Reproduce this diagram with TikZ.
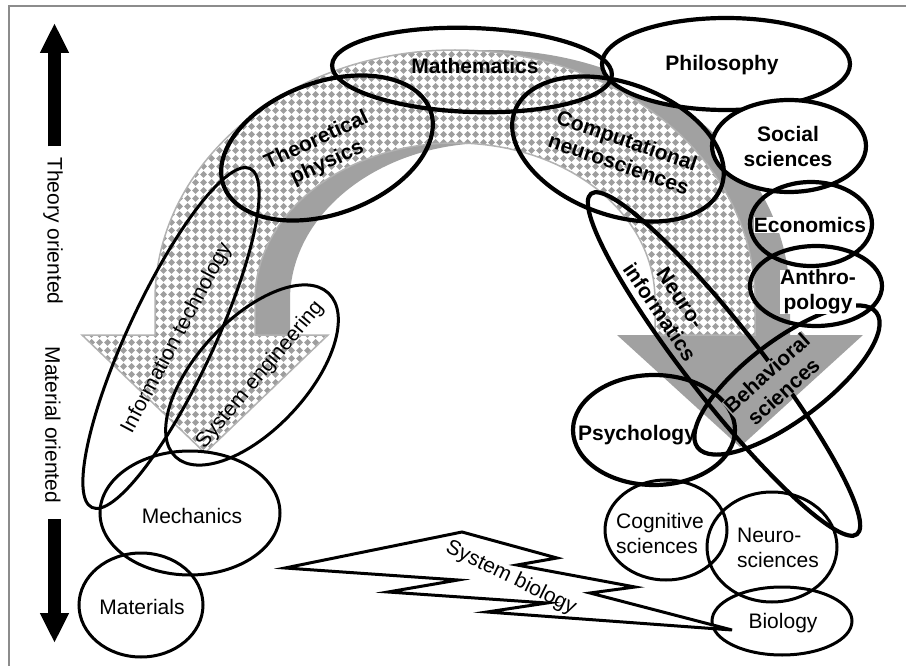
\documentclass[tikz,border=0pt]{standalone}
\usepackage{fontspec}
\setmainfont{Liberation Sans}
\usetikzlibrary{shapes.geometric,arrows.meta,patterns,calc}

\pgfdeclarepatternformonly{diamonds}{\pgfpointorigin}{\pgfpoint{8pt}{8pt}}{\pgfpoint{8pt}{8pt}}{%
  \pgfpathmoveto{\pgfpoint{4pt}{0.2pt}}%
  \pgfpathlineto{\pgfpoint{7.8pt}{4pt}}%
  \pgfpathlineto{\pgfpoint{4pt}{7.8pt}}%
  \pgfpathlineto{\pgfpoint{0.2pt}{4pt}}%
  \pgfpathclose
  \pgfusepath{fill}%
}

\tikzset{
  field/.style={ellipse, draw, line width=3pt, inner sep=0pt},
  core/.style={field, line width=4.2pt},
  txt/.style={font=\fontsize{21}{25}\selectfont, align=center, inner sep=1pt},
  btxt/.style={txt, font=\fontsize{21}{25}\selectfont\bfseries},
  bigarrow/.style={line width=13pt, -{Triangle[width=27pt,length=30pt]}},
}

\begin{document}
\begin{tikzpicture}[x=1pt,y=-1pt]
\useasboundingbox (0,0) rectangle (906,666);
\draw[black!45, line width=1.2pt] (9,666) -- (9,6) -- (906,6);

% gray arch, material -> theory -> material (left to right)
\fill[black!37] (190,335) -- (190,300) .. controls (190,162) and (324,50) .. (490,50)
  .. controls (656,50) and (790,162) .. (790,300) -- (790,335) -- (863,335) -- (740,447)
  -- (617,335) -- (690,335) -- (690,300) .. controls (690,213) and (601,143) .. (490,143)
  .. controls (380,143) and (290,213) .. (290,300) -- (290,335) -- cycle;

% checkered arch, right to left
\path[preaction={fill=white}, pattern=diamonds, pattern color=black!38, draw=black!30, line width=1.5pt]
  (655,335) -- (655,300) .. controls (655,213) and (566,143) .. (455,143)
  .. controls (345,143) and (255,213) .. (255,300) -- (255,335) -- (328,335) -- (205,453)
  -- (82,335) -- (155,335) -- (155,300) .. controls (155,162) and (289,50) .. (455,50)
  .. controls (621,50) and (755,162) .. (755,300) -- (755,335) -- cycle;

% fields
\node[core, fill=white, minimum width=248pt, minimum height=92pt] (phil) at (726,64) {};
\node[core, fill=white, minimum width=154pt, minimum height=92pt] (soc) at (789,146) {};
\node[core, minimum width=280pt, minimum height=84pt, rotate=-2] (math) at (472,70) {};
\node[core, minimum width=220pt, minimum height=132pt, rotate=20] (theo) at (327,148) {};
\node[core, minimum width=220pt, minimum height=132pt, rotate=-20] (comp) at (618,149) {};
\node[core, minimum width=122pt, minimum height=84pt] (econ) at (811,224) {};
\node[core, minimum width=132pt, minimum height=80pt] (anth) at (816,286) {};
\node[field, minimum width=374pt, minimum height=86pt, rotate=65] (it) at (171,338) {};
\node[field, minimum width=224pt, minimum height=110pt, rotate=47] (syseng) at (252,375) {};
\node[field, minimum width=180pt, minimum height=124pt] (mech) at (190,513) {};
\node[field, minimum width=124pt, minimum height=104pt] (mat) at (141,605) {};
\node[core, minimum width=432pt, minimum height=74pt, rotate=-52] (neuroinf) at (724,364) {};
\node[core, minimum width=162pt, minimum height=110pt] (psych) at (654,430) {};
\node[core, minimum width=224pt, minimum height=80pt, rotate=37] (behav) at (787,380) {};
\node[field, minimum width=122pt, minimum height=100pt] (cog) at (666,530) {};
\node[field, minimum width=130pt, minimum height=110pt] (neusci) at (772,547) {};
\node[field, minimum width=140pt, minimum height=68pt] (bio) at (782,621) {};

% system biology bolt
\draw[line width=3pt, fill=white] (285,568) -- (462,532) -- (557,558) -- (517,565) -- (635,587)
  -- (590,593) -- (732,630) -- (487,612) -- (547,603) -- (388,592) -- (458,580) -- cycle;
\node[txt, rotate=-26] (sysbio-t) at (511,578) {System biology};

% labels
\node[btxt] (math-t) at (475,66) {Mathematics};
\node[btxt] (phil-t) at (722,65) {Philosophy};
\node[btxt] (soc-t) at (788,146) {Social\\sciences};
\node[btxt, fill=white, inner sep=0pt] (econ-t) at (810,225) {Economics};
\node[btxt, fill=white, inner sep=0pt] (anth-t) at (818,292) {Anthro-\\pology};
\node[btxt, rotate=25] (theo-t) at (322,152) {Theoretical\\physics};
\node[btxt, rotate=-19] (comp-t) at (623,152) {Computational\\neurosciences};
\node[btxt, rotate=-56] (neuroinf-t) at (670,305) {Neuro-\\informatics};
\node[btxt, rotate=42, fill=black!37, inner sep=0pt] (behav-t) at (775,382) {Behavioral\\sciences};
\node[btxt] (psych-t) at (637,435) {Psychology};
\node[txt, rotate=62] (it-t) at (177,338) {Information technology};
\node[txt, rotate=50] (syseng-t) at (260,375) {System engineering};
\node[txt] (mech-t) at (192,516) {Mechanics};
\node[txt] (mat-t) at (142,607) {Materials};
\node[txt, align=left] (cog-t) at (660,533) {Cognitive\\sciences};
\node[txt, align=left] (neusci-t) at (778,548) {Neuro-\\sciences};
\node[txt] (bio-t) at (783,623) {Biology};

% axis
\node[txt, rotate=-90] (theory-t) at (53,231) {Theory oriented};
\node[txt, rotate=-90] (material-t) at (53,425) {Material oriented};
\coordinate (uptip) at (54.5,23);
\coordinate (downtip) at (54.5,643);
\draw[bigarrow] ($(theory-t.west)+(1.5,-10)$) -- (uptip);
\draw[bigarrow] ($(material-t.east)+(1.5,15)$) -- (downtip);
\end{tikzpicture}
\end{document}
